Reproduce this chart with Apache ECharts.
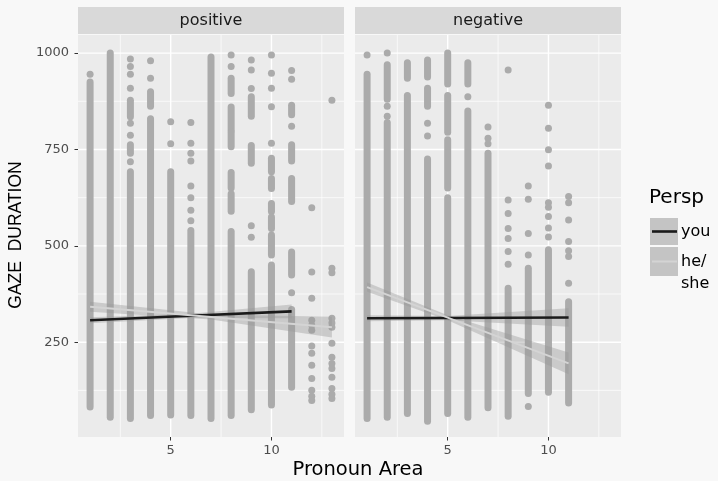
<!DOCTYPE html>
<html><head><meta charset="utf-8">
<script src="https://cdn.jsdelivr.net/npm/echarts@6/dist/echarts.min.js"></script>
<style>html,body{margin:0;padding:0;background:#F8F8F8}#c{width:718px;height:481px}</style>
</head><body><div id="c"></div>
<script>
// ---- data ----
const panels = ['positive', 'negative'];
const xTicks = [5, 10];
const xMinor = [2.5, 7.5, 12.5];
const yTicks = [250, 500, 750, 1000];
const yMinor = [125, 375, 625, 875];
const legendTitle = 'Persp';
const legendLabels = ['you', 'he/\nshe'];
const xTitle = 'Pronoun Area';
const yTitle = 'GAZE  DURATION';

// dense runs of overlapping points: [x, low, high]
const posRuns = [
  [1, 82, 925], [2, 55, 1000],
  [3, 835, 878], [3, 740, 762], [3, 52, 692],
  [4, 862, 900], [4, 60, 830],
  [5, 61, 692], [6, 60, 540], [7, 52, 990],
  [8, 895, 935], [8, 800, 860], [8, 757, 795], [8, 650, 690], [8, 590, 635], [8, 60, 537],
  [9, 836, 887], [9, 714, 760], [9, 75, 433],
  [10, 692, 727], [10, 649, 675], [10, 589, 610], [10, 545, 575], [10, 476, 528], [10, 87, 450],
  [11, 840, 865], [11, 720, 762], [11, 615, 675], [11, 424, 484], [11, 133, 335]
];
// isolated points: [x, y]
const posDots = [
  [1, 945],
  [3, 985], [3, 965], [3, 945], [3, 909], [3, 818], [3, 787], [3, 718],
  [4, 980], [4, 935],
  [5, 822], [5, 765],
  [6, 820], [6, 766], [6, 740], [6, 720], [6, 655], [6, 625], [6, 592], [6, 565],
  [8, 995], [8, 965],
  [9, 982], [9, 956], [9, 908], [9, 552], [9, 522],
  [10, 995], [10, 948], [10, 909], [10, 861], [10, 766],
  [11, 955], [11, 932], [11, 810], [11, 378],
  [12, 599], [12, 432], [12, 364], [12, 307], [12, 294], [12, 281], [12, 240], [12, 221], [12, 190], [12, 156], [12, 125], [12, 110], [12, 99],
  [13, 878], [13, 442], [13, 430], [13, 312], [13, 300], [13, 289], [13, 247], [13, 211], [13, 195], [13, 182], [13, 159], [13, 130], [13, 115], [13, 104]
];
const negRuns = [
  [1, 52, 945],
  [2, 880, 970], [2, 55, 820],
  [3, 935, 975], [3, 65, 890],
  [4, 938, 982], [4, 862, 909], [4, 45, 725],
  [5, 920, 1000], [5, 795, 890], [5, 650, 775], [5, 65, 625],
  [6, 920, 975], [6, 55, 850],
  [7, 80, 740],
  [8, 58, 390],
  [9, 117, 442],
  [10, 120, 490],
  [11, 92, 355]
];
const negDots = [
  [1, 995],
  [2, 1000], [2, 862], [2, 836],
  [4, 818], [4, 785],
  [6, 887],
  [7, 808], [7, 779], [7, 765],
  [8, 956], [8, 619], [8, 584], [8, 545], [8, 519], [8, 485], [8, 452],
  [9, 655], [9, 621], [9, 532], [9, 476], [9, 83],
  [10, 865], [10, 805], [10, 749], [10, 707], [10, 612], [10, 600], [10, 576], [10, 546], [10, 523],
  [11, 628], [11, 612], [11, 567], [11, 511], [11, 487], [11, 472], [11, 403]
];
// smooth fits: [x, fit, lower, upper]
const posYou = [[1, 307, 299, 315], [6, 318.5, 313, 324], [11, 330, 312, 348]];
const posHe = [[1, 342, 329, 355], [7, 315.5, 309, 322], [13, 289, 262, 316]];
const negYou = [[1, 312, 304, 320], [5, 312.8, 307, 318], [11, 314, 290, 338]];
const negHe = [[1, 393, 381, 405], [5, 313.8, 307, 320], [11, 195, 167, 223]];

// ---- style ----
const PT = '#ABABAB';
const BAND = 'rgba(153,153,153,0.4)';
const YOU = '#1A1A1A';
const HE = '#D4D4D4';
const X_MIN = 0.4, X_MAX = 13.6, Y_MIN = 4, Y_MAX = 1047;
const R = 3.5;
const FONT = 'DejaVu Sans';

function hLine(w) {
  return (params, api) => {
    const cs = params.coordSys;
    const y = api.coord([X_MIN, api.value(1)])[1];
    return { type: 'line', shape: { x1: cs.x, y1: y, x2: cs.x + cs.width, y2: y }, style: { stroke: '#FFFFFF', lineWidth: w } };
  };
}
function vLine(w) {
  return (params, api) => {
    const cs = params.coordSys;
    const x = api.coord([api.value(0), Y_MIN])[0];
    return { type: 'line', shape: { x1: x, y1: cs.y, x2: x, y2: cs.y + cs.height }, style: { stroke: '#FFFFFF', lineWidth: w } };
  };
}
function runRender(params, api) {
  const x = api.value(0), lo = api.value(1), hi = api.value(2);
  const a = api.coord([x, hi]), b = api.coord([x, lo]);
  return { type: 'rect', shape: { x: a[0] - R, y: a[1] - R, width: 2 * R, height: b[1] - a[1] + 2 * R, r: R }, style: { fill: PT } };
}
function bandRender(rows) {
  return (params, api) => {
    if (params.dataIndex !== 0) return null;
    const top = rows.map(r => api.coord([r[0], r[3]]));
    const bot = rows.map(r => api.coord([r[0], r[2]])).reverse();
    return { type: 'polygon', shape: { points: top.concat(bot) }, style: { fill: BAND } };
  };
}

const grids = [], xAxes = [], yAxes = [], series = [];
const lefts = [78, 355];
const runSets = [posRuns, negRuns], dotSets = [posDots, negDots];
const youSets = [posYou, negYou], heSets = [posHe, negHe];

panels.forEach((p, i) => {
  grids.push({ left: lefts[i], top: 35, width: 266, height: 402, show: true, backgroundColor: '#EBEBEB', borderWidth: 0 });
  xAxes.push({
    type: 'value', gridIndex: i, min: X_MIN, max: X_MAX,
    axisLine: { show: false }, splitLine: { show: false },
    axisTick: { show: true, customValues: xTicks, length: 3.5, lineStyle: { color: '#333333', width: 1 } },
    axisLabel: { customValues: xTicks, margin: 7, fontSize: 13, color: '#4D4D4D', fontFamily: FONT, formatter: v => String(v) }
  });
  yAxes.push({
    type: 'value', gridIndex: i, min: Y_MIN, max: Y_MAX,
    axisLine: { show: false }, splitLine: { show: false },
    axisTick: { show: i === 0, customValues: yTicks, length: 3.5, lineStyle: { color: '#333333', width: 1 } },
    axisLabel: { show: i === 0, customValues: yTicks, margin: 9, fontSize: 13, color: '#4D4D4D', fontFamily: FONT, formatter: v => String(v) }
  });
  const ax = { xAxisIndex: i, yAxisIndex: i };
  series.push(Object.assign({ type: 'custom', silent: true, z: 1, renderItem: hLine(0.7), data: yMinor.map(v => [X_MIN, v]), encode: { x: 0, y: 1 } }, ax));
  series.push(Object.assign({ type: 'custom', silent: true, z: 1, renderItem: vLine(0.7), data: xMinor.map(v => [v, Y_MIN]), encode: { x: 0, y: 1 } }, ax));
  series.push(Object.assign({ type: 'custom', silent: true, z: 1, renderItem: hLine(1.4), data: yTicks.map(v => [X_MIN, v]), encode: { x: 0, y: 1 } }, ax));
  series.push(Object.assign({ type: 'custom', silent: true, z: 1, renderItem: vLine(1.4), data: xTicks.map(v => [v, Y_MIN]), encode: { x: 0, y: 1 } }, ax));
  series.push(Object.assign({ type: 'custom', silent: true, z: 2, renderItem: runRender, data: runSets[i], encode: { x: 0, y: [1, 2] } }, ax));
  series.push(Object.assign({ type: 'scatter', silent: true, z: 2, symbolSize: 2 * R, itemStyle: { color: PT, opacity: 1 }, data: dotSets[i] }, ax));
  series.push(Object.assign({ type: 'custom', silent: true, z: 3, renderItem: bandRender(youSets[i]), data: youSets[i], encode: { x: 0, y: [1, 2, 3] } }, ax));
  series.push(Object.assign({ type: 'custom', silent: true, z: 3, renderItem: bandRender(heSets[i]), data: heSets[i], encode: { x: 0, y: [1, 2, 3] } }, ax));
  series.push(Object.assign({ type: 'line', silent: true, z: 4, showSymbol: false, symbol: 'none', lineStyle: { color: YOU, width: 2.6 }, data: youSets[i].map(r => [r[0], r[1]]) }, ax));
  series.push(Object.assign({ type: 'line', silent: true, z: 5, showSymbol: false, symbol: 'none', lineStyle: { color: HE, width: 2 }, data: heSets[i].map(r => [r[0], r[1]]) }, ax));
});

const graphic = [];
panels.forEach((p, i) => {
  graphic.push({ type: 'rect', shape: { x: lefts[i], y: 7, width: 266, height: 27 }, style: { fill: '#D9D9D9' }, silent: true });
  graphic.push({ type: 'text', x: lefts[i] + 133, y: 20.5, style: { text: p, font: '16px "DejaVu Sans"', fill: '#1A1A1A', textAlign: 'center', textVerticalAlign: 'middle' }, silent: true });
});
graphic.push({ type: 'text', x: 358, y: 469.5, style: { text: xTitle, font: '19.5px "DejaVu Sans"', fill: '#000000', textAlign: 'center', textVerticalAlign: 'middle' }, silent: true });
graphic.push({ type: 'text', x: 16.5, y: 235, rotation: Math.PI / 2, style: { text: yTitle, font: '17.5px "Liberation Sans"', fill: '#000000', textAlign: 'center', textVerticalAlign: 'middle' }, silent: true });
graphic.push({ type: 'text', x: 649, y: 198, style: { text: legendTitle, font: '20px "DejaVu Sans"', fill: '#000000', textAlign: 'left', textVerticalAlign: 'middle' }, silent: true });
graphic.push({ type: 'rect', shape: { x: 650, y: 218, width: 28, height: 27 }, style: { fill: '#C4C4C4' }, silent: true });
graphic.push({ type: 'line', shape: { x1: 652, y1: 231.5, x2: 677, y2: 231.5 }, style: { stroke: YOU, lineWidth: 2.6 }, silent: true });
graphic.push({ type: 'rect', shape: { x: 650, y: 247, width: 28, height: 29 }, style: { fill: '#C4C4C4' }, silent: true });
graphic.push({ type: 'line', shape: { x1: 652, y1: 261.5, x2: 677, y2: 261.5 }, style: { stroke: HE, lineWidth: 2 }, silent: true });
graphic.push({ type: 'text', x: 681, y: 232, style: { text: legendLabels[0], font: '16px "DejaVu Sans"', fill: '#000000', textAlign: 'left', textVerticalAlign: 'middle' }, silent: true });
graphic.push({ type: 'text', x: 681, y: 273, style: { text: legendLabels[1], font: '16px "DejaVu Sans"', fill: '#000000', textAlign: 'left', textVerticalAlign: 'middle', lineHeight: 22 }, silent: true });

const chart = echarts.init(document.getElementById('c'));
chart.setOption({
  backgroundColor: '#F8F8F8',
  animation: false,
  grid: grids, xAxis: xAxes, yAxis: yAxes, series: series, graphic: graphic
});
</script></body></html>
